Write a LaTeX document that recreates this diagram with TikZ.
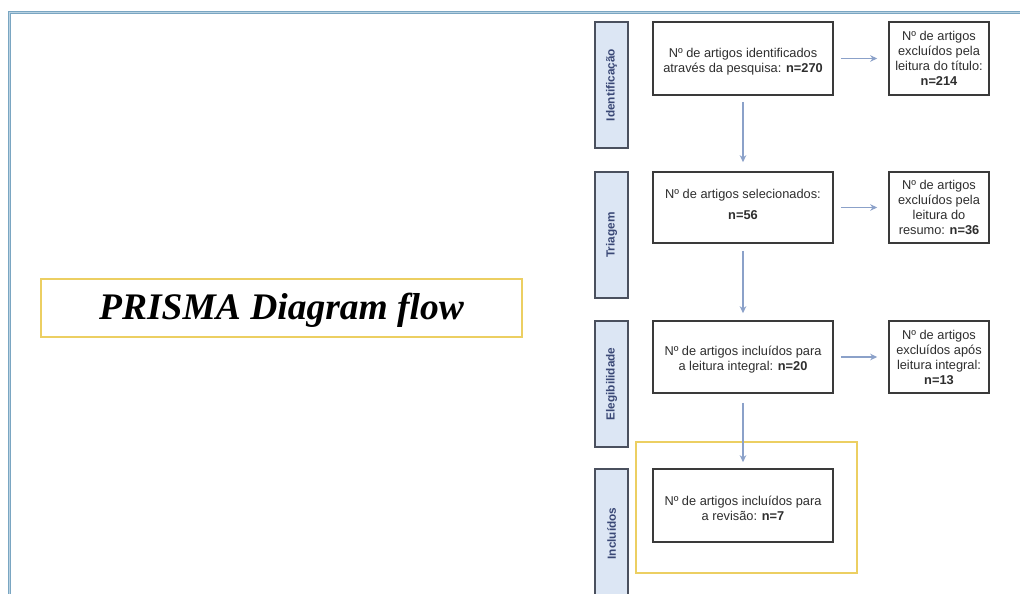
\documentclass[tikz,border=0pt]{standalone}
\usepackage{fontspec}
\setmainfont{Liberation Sans}
\newfontfamily\titlefont{Liberation Serif}
\usetikzlibrary{arrows.meta}
\definecolor{framec}{HTML}{7AA6C2}
\definecolor{framein}{HTML}{B9D2E2}
\definecolor{phasefill}{HTML}{DCE6F4}
\definecolor{phasedraw}{HTML}{4A505E}
\definecolor{phasetext}{HTML}{3A4876}
\definecolor{boxdraw}{HTML}{3A3A3A}
\definecolor{arrowc}{HTML}{8BA1C9}
\definecolor{goldc}{HTML}{ECCF62}
\definecolor{textc}{HTML}{2E2E2E}
\tikzset{
  phasebox/.style={draw=phasedraw, fill=phasefill, line width=1.6pt, minimum width=33pt, minimum height=126pt, inner sep=0pt},
  phaselabel/.style={rotate=90, font=\fontsize{11.8}{13}\selectfont\bfseries, text=phasetext},
  mainbox/.style={draw=boxdraw, line width=1.6pt, minimum width=180pt, minimum height=73pt, inner sep=0pt},
  sidebox/.style={draw=boxdraw, line width=1.6pt, minimum width=100pt, minimum height=73pt, inner sep=0pt, align=center, text=textc, font=\fontsize{12.8}{15}\selectfont},
  boxtext/.style={align=center, text=textc, font=\fontsize{12.8}{15}\selectfont, inner sep=0pt},
  flowarrow/.style={draw=arrowc, line width=1.7pt, -{Stealth[length=7pt,width=6.5pt]}},
  goldbox/.style={draw=goldc, line width=2.4pt, inner sep=0pt},
}
\begin{document}
\begin{tikzpicture}[x=1pt,y=-1pt]
\useasboundingbox (0,0) rectangle (1020,594);
\clip (0,0) rectangle (1020,594);
\fill[white] (0,0) rectangle (1020,594);
% outer frame
\coordinate (fa) at (9,620);
\coordinate (fb) at (9,12.5);
\coordinate (fc) at (1030,12.5);
\draw[framec, line width=3pt] (fa) -- (fb) -- (fc);
\draw[framein, line width=0.8pt] (fa) -- (fb) -- (fc);
% title
\node[goldbox, minimum width=481pt, minimum height=58pt] (title) at (281.5,308) {};
\node[inner sep=0pt] (titletext) at ([yshift=-2.5pt]title.center)
  {\titlefont\fontsize{37.5}{40}\selectfont\bfseries\itshape PRISMA Diagram flow};
% phase boxes
\node[phasebox] (p1) at (611.5,85) {};
\node[phaselabel] (l1) at (p1.center) {Identificação};
\node[phasebox] (p2) at (611.5,235) {};
\node[phaselabel] (l2) at (p2.center) {Triagem};
\node[phasebox] (p3) at (611.5,384) {};
\node[phaselabel] (l3) at (p3.center) {Elegibilidade};
\node[phasebox, minimum height=129pt] (p4) at (611.5,533.5) {};
\node[phaselabel] (l4) at (p4.center) {Incluídos};
% gold highlight box
\node[goldbox, minimum width=221pt, minimum height=131pt] (hl) at (746.5,507.5) {};
% main boxes
\node[mainbox] (b1) at (743,58.5) {};
\node[boxtext] (t1) at ([yshift=-3pt]b1.center) {Nº de artigos identificados\\através da pesquisa: \textbf{n=270}};
\node[mainbox, minimum height=71pt] (b2) at (743,207.5) {};
\node[boxtext] (t2) at ([yshift=3pt]b2.center) {Nº de artigos selecionados:\\[6pt]\textbf{n=56}};
\node[mainbox, minimum height=72pt] (b3) at (743,357) {};
\node[boxtext] (t3) at ([yshift=-2.5pt]b3.center) {Nº de artigos incluídos para\\a leitura integral: \textbf{n=20}};
\node[mainbox] (b4) at (743,505.5) {};
\node[boxtext] (t4) at ([yshift=-3pt]b4.center) {Nº de artigos incluídos para\\a revisão: \textbf{n=7}};
% side boxes
\node[sidebox] (r1) at (939,58.5) {Nº de artigos\\excluídos pela\\leitura do título:\\\textbf{n=214}};
\node[sidebox, minimum height=71pt] (r2) at (939,207.5) {Nº de artigos\\excluídos pela\\leitura do\\resumo: \textbf{n=36}};
\node[sidebox, minimum height=72pt] (r3) at (939,357) {Nº de artigos\\excluídos após\\leitura integral:\\\textbf{n=13}};
% arrows
\draw[flowarrow, shorten <=6pt, shorten >=9pt] (b1.south) -- (b2.north);
\draw[flowarrow, shorten <=7pt, shorten >=7pt] (b2.south) -- (b3.north);
\draw[flowarrow, shorten <=9pt, shorten >=6pt] (b3.south) -- (b4.north);
\draw[flowarrow, shorten <=7pt, shorten >=11pt] (b1.east) -- (r1.west);
\draw[flowarrow, shorten <=7pt, shorten >=11pt] (b2.east) -- (r2.west);
\draw[flowarrow, shorten <=7pt, shorten >=11pt] (b3.east) -- (r3.west);
\end{tikzpicture}
\end{document}
